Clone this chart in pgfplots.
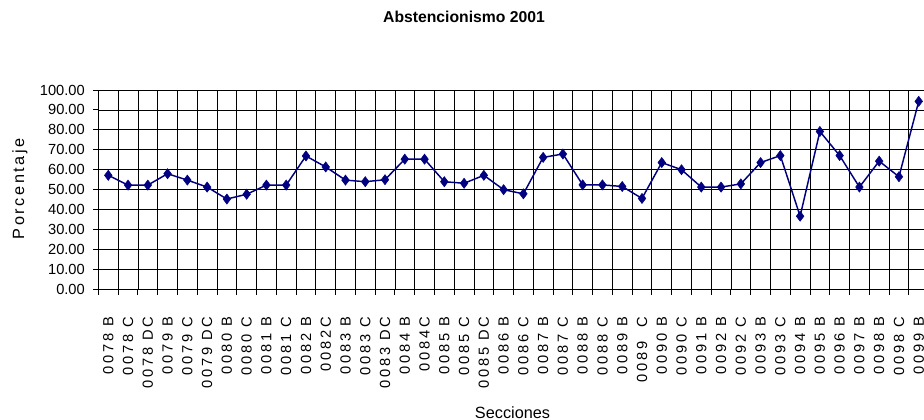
\documentclass[border=0pt]{standalone}
\usepackage{fontspec}
\setmainfont{Liberation Sans}
\newfontfamily\lsfont[LetterSpace=19]{Liberation Sans}
\newfontfamily\lsfontb[LetterSpace=16]{Liberation Sans}
\usepackage{pgfplots}
\pgfplotsset{compat=1.18}
\definecolor{navyline}{RGB}{0,0,128}
\pgfplotstableread{
x y
0 57.2
1 52.3
2 52.3
3 58.0
4 54.8
5 51.3
6 45.3
7 47.7
8 52.3
9 52.3
10 66.9
11 61.4
12 54.8
13 54.0
14 55.0
15 65.3
16 65.3
17 54.0
18 53.2
19 57.2
20 50.0
21 47.9
22 66.2
23 67.9
24 52.4
25 52.4
26 51.6
27 45.6
28 63.6
29 60.0
30 51.3
31 51.3
32 52.9
33 63.6
34 67.1
35 36.7
36 79.2
37 67.1
38 51.3
39 64.3
40 56.5
41 94.3
}\datatable
\begin{document}
\begin{tikzpicture}
\begin{axis}[
  at={(0pt,0pt)}, anchor=south west,
  scale only axis, width=622.65pt, height=149.5pt,
  xmin=-0.5, xmax=41.5, ymin=0, ymax=100,
  axis lines=left,
  axis line style={-, line width=1.1pt, black},
  tick align=outside,
  major tick length=4pt, minor tick length=4pt,
  xtick={0,...,41},
  xticklabels={{0078 B},{0078 C},{0078 DC},{0079 B},{0079 C},{0079 DC},{0080 B},{0080 C},{0081 B},{0081 C},{0082 B},{0082C},{0083 B},{0083 C},{0083 DC},{0084 B},{0084C},{0085 B},{0085 C},{0085 DC},{0086 B},{0086 C},{0087 B},{0087 C},{0088 B},{0088 C},{0089 B},{0089\ \ C},{0090 B},{0090 C},{0091 B},{0092 B},{0092 C},{0093 B},{0093 C},{0094 B},{0095 B},{0096 B},{0097 B},{0098 B},{0098 C},{0099 B}},
  minor xtick={-0.5,0.5,...,41.5},
  major x tick style={draw=none},
  minor x tick style={black, line width=0.7pt},
  ytick={0,10,...,100},
  major y tick style={black, line width=0.7pt},
  xminorgrids=true, ymajorgrids=true, xmajorgrids=false,
  minor x grid style={black, line width=0.6pt},
  major y grid style={black, line width=0.6pt},
  x tick label style={font=\lsfont\fontsize{11}{13}\selectfont, rotate=90, anchor=east, inner xsep=16.5pt},
  y tick label style={font=\fontsize{11}{13}\selectfont, inner xsep=6pt},
  yticklabel style={/pgf/number format/fixed, /pgf/number format/fixed zerofill, /pgf/number format/precision=2, /pgf/number format/assume math mode=true},
  title={Abstencionismo 2001},
  title style={font=\bfseries\fontsize{11.8}{14}\selectfont, at={(axis description cs:0.4404,1.301)}, anchor=base},
  xlabel={Secciones},
  xlabel style={font=\fontsize{12.2}{14}\selectfont, at={(axis description cs:0.4988,-0.647)}, anchor=base},
  ylabel={\lsfontb Porcentaje},
  ylabel style={font=\fontsize{12.2}{14}\selectfont, at={(axis description cs:-0.0896,0.505)}, anchor=base, rotate=0},
  clip=false,
]
\addplot[navyline, line width=1.1pt, mark=diamond*, mark size=3.8pt, mark options={fill=navyline, draw=navyline, line width=0.4pt}] table[x=x,y=y] {\datatable};
\end{axis}
\pgfresetboundingbox
\path[use as bounding box] (-73.8pt,-97.3pt) rectangle (619.2pt,217pt);
\end{tikzpicture}
\end{document}
